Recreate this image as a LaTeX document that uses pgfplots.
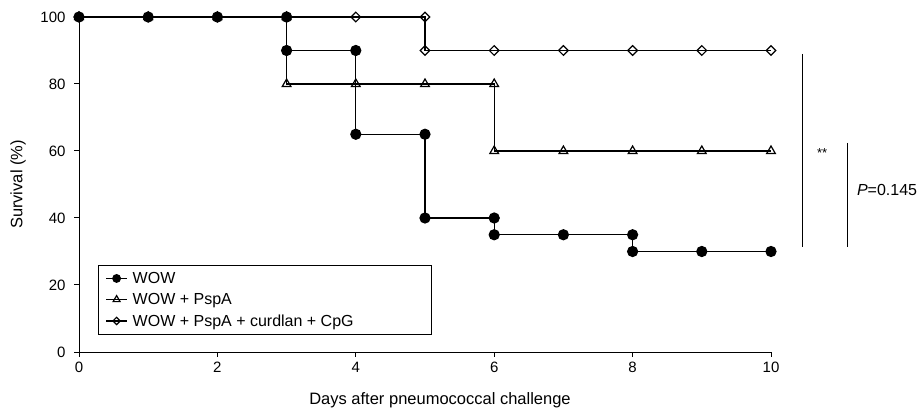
\documentclass[border=0pt]{standalone}
\usepackage{fontspec}
\setmainfont{Liberation Sans}
\usepackage{pgfplots}
\pgfplotsset{compat=1.18}
\begin{document}
\begin{tikzpicture}
\begin{axis}[
  at={(0,0)}, anchor=south west,
  scale only axis, width=692bp, height=335bp,
  xmin=0, xmax=10, ymin=0, ymax=100,
  axis x line*=bottom, axis y line*=left,
  axis line style={line width=1bp, -},
  xtick={0,2,...,10}, ytick={0,20,...,100},
  tick style={black, line width=1bp},
  tick align=outside, major tick length=5bp,
  /pgf/number format/assume math mode=true,
  tick label style={font=\fontsize{15bp}{18bp}\selectfont},
  yticklabel style={xshift=-5bp},
  xticklabel style={yshift=-2bp},
  xlabel={Days after pneumococcal challenge},
  ylabel={Survival (\%)},
  label style={font=\fontsize{16.5bp}{19bp}\selectfont},
  xlabel style={at={(axis description cs:0.5217,0)}, anchor=center, yshift=-48bp},
  ylabel style={at={(axis description cs:-0.0881,0.5)}, anchor=center},
  clip=false,
  legend image code/.code={\draw[mark repeat=2,mark phase=2,#1] plot coordinates {(0bp,0bp)(10.5bp,0bp)(21bp,0bp)};},
  legend style={at={(axis description cs:0.02746,0.05075)}, anchor=south west,
    draw=black, line width=1bp, font=\fontsize{16bp}{19bp}\selectfont,
    inner xsep=7bp, inner ysep=5bp, row sep=4.5bp},
  legend cell align=left,
]
% legend images (smaller marks, as in the reference legend)
\addlegendimage{black, line width=1.2bp, mark=*, mark size=3.8bp}
\addlegendentry{\hspace{3bp}WOW}
\addlegendimage{black, line width=1.2bp, mark=triangle, mark size=4bp, mark options={fill=white}}
\addlegendentry{\hspace{3bp}WOW + PspA}
\addlegendimage{black, line width=1.2bp, mark=square, mark size=2.6bp, mark options={rotate=45, fill=white}}
\addlegendentry{\hspace{3bp}\makebox[290bp][l]{WOW + PspA + curdlan + CpG}}

% WOW + PspA + curdlan + CpG
\addplot[forget plot, black, line width=1.2bp, mark=square, mark size=3.4bp, mark options={rotate=45, fill=white, line width=1.2bp}]
coordinates {(0,100)(1,100)(2,100)(3,100)(4,100)(5,100)(5,90)(6,90)(7,90)(8,90)(9,90)(10,90)};
% WOW + PspA
\addplot[forget plot, black, line width=1.2bp, mark=triangle, mark size=5bp, mark options={fill=white, line width=1.2bp}]
coordinates {(0,100)(1,100)(2,100)(3,100)(3,80)(4,80)(5,80)(6,80)(6,60)(7,60)(8,60)(9,60)(10,60)};
% WOW
\addplot[forget plot, black, line width=1.2bp, mark=*, mark size=5bp]
coordinates {(0,100)(1,100)(2,100)(3,100)(3,90)(4,90)(4,65)(5,65)(5,40)(6,40)(6,35)(7,35)(8,35)(8,30)(9,30)(10,30)};

% significance annotations
\draw[line width=1bp] (axis cs:10.46,89) -- (axis cs:10.46,31.3);
\draw[line width=1bp] (axis cs:11.1,62.4) -- (axis cs:11.1,31.3);
\node[font=\fontsize{13bp}{15bp}\selectfont] at (axis cs:10.74,59.5) {**};
\node[anchor=west, inner sep=0pt, font=\fontsize{16bp}{19bp}\selectfont] at (axis cs:11.24,48.4) {\textit{P}=0.145};
\end{axis}
\useasboundingbox (-79bp,-60bp) rectangle (842bp,352bp);
\end{tikzpicture}
\end{document}
